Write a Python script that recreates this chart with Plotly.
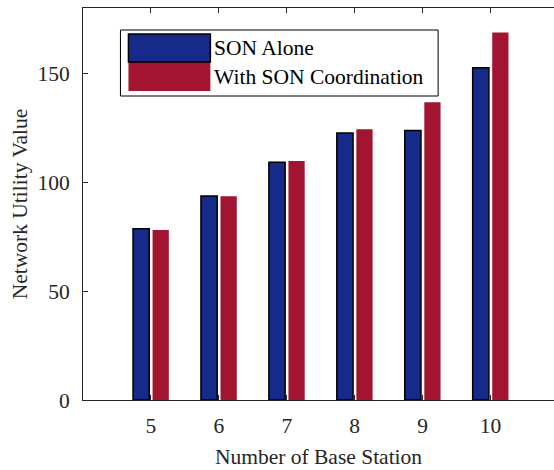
import plotly.graph_objects as go

# ---- data ----
base_stations = [5, 6, 7, 8, 9, 10]
son_alone = [78.6, 93.7, 109.2, 122.6, 123.7, 152.6]
son_coord = [78.1, 93.6, 109.8, 124.3, 136.7, 168.8]
series_names = ["SON Alone", "With SON Coordination"]
y_ticks = [0, 50, 100, 150]

BLUE = "#162A8A"
RED = "#A2142F"
AX = "#262626"
FONT = "Liberation Serif, Times New Roman, serif"
FS = 21.5

W, H = 554, 470
L, R, T, B = 82.5, 554, 8, 400  # plot area in px


def px(x):
    return (x - L) / (R - L)


def py(y):
    return (B - y) / (B - T)


fig = go.Figure()
fig.add_trace(go.Bar(x=base_stations, y=son_alone, name=series_names[0],
                     marker=dict(color=BLUE, line=dict(color="black", width=1.5))))
fig.add_trace(go.Bar(x=base_stations, y=son_coord, name=series_names[1],
                     marker=dict(color=RED, line=dict(width=0))))

shapes = [
    dict(type="rect", xref="paper", yref="paper", x0=px(120), x1=px(438), y0=py(96), y1=py(30),
         line=dict(color="black", width=1), fillcolor="white", layer="above"),
    dict(type="rect", xref="paper", yref="paper", x0=px(128), x1=px(210), y0=py(91), y1=py(62),
         line=dict(width=0), fillcolor=RED, layer="above"),
    dict(type="rect", xref="paper", yref="paper", x0=px(128), x1=px(210), y0=py(62), y1=py(34),
         line=dict(color="black", width=1.5), fillcolor=BLUE, layer="above"),
]
annotations = [
    dict(xref="paper", yref="paper", x=px(212), y=py(48), text=series_names[0], showarrow=False,
         xanchor="left", yanchor="middle", font=dict(family=FONT, size=FS, color="black")),
    dict(xref="paper", yref="paper", x=px(212), y=py(77), text=series_names[1], showarrow=False,
         xanchor="left", yanchor="middle", font=dict(family=FONT, size=FS, color="black")),
]

fig.update_layout(
    width=W, height=H,
    margin=dict(l=L, r=W - R, t=T, b=H - B, pad=0),
    paper_bgcolor="white", plot_bgcolor="white",
    barmode="group", bargap=0.424, bargroupgap=0.17,
    showlegend=False,
    font=dict(family=FONT, size=FS, color=AX),
    shapes=shapes, annotations=annotations,
    xaxis=dict(range=[4, 4 + (R - L) / 68.0], tickvals=base_stations, ticks="inside", ticklen=5,
               tickcolor=AX, showline=True, linecolor=AX, linewidth=1, mirror="ticks",
               showgrid=False, zeroline=False, ticklabelstandoff=6,
               tickfont=dict(size=FS),
               title=dict(text="Number of Base Station", standoff=12, font=dict(size=FS))),
    yaxis=dict(range=[0, 180], tickvals=y_ticks, ticks="inside", ticklen=5, tickcolor=AX,
               showline=True, linecolor=AX, linewidth=1, showgrid=False, zeroline=False,
               ticklabelstandoff=8, tickfont=dict(size=FS),
               title=dict(text="Network Utility Value", standoff=3, font=dict(size=FS))),
    yaxis2=dict(range=[0, 180], tickvals=y_ticks, overlaying="y", side="right", anchor="x",
                ticks="inside", ticklen=3, tickcolor=AX, showticklabels=False,
                showline=False, showgrid=False, zeroline=False),
)

fig.write_html("out.html")
